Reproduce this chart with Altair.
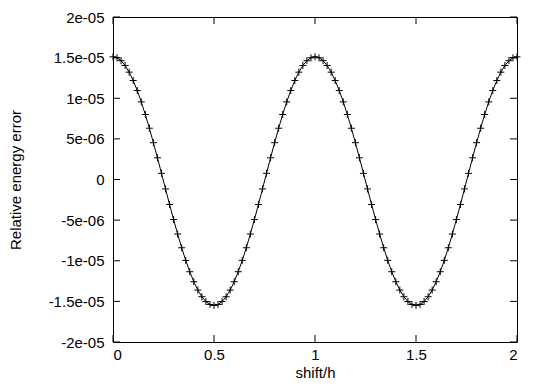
import altair as alt
import pandas as pd

# sample positions (shift/h)
x_vals = [0.00, 0.02, 0.04, 0.06, 0.08, 0.10, 0.12, 0.14, 0.16, 0.18,
          0.20, 0.22, 0.24, 0.26, 0.28, 0.30, 0.32, 0.34, 0.36, 0.38,
          0.40, 0.42, 0.44, 0.46, 0.48, 0.50, 0.52, 0.54, 0.56, 0.58,
          0.60, 0.62, 0.64, 0.66, 0.68, 0.70, 0.72, 0.74, 0.76, 0.78,
          0.80, 0.82, 0.84, 0.86, 0.88, 0.90, 0.92, 0.94, 0.96, 0.98,
          1.00, 1.02, 1.04, 1.06, 1.08, 1.10, 1.12, 1.14, 1.16, 1.18,
          1.20, 1.22, 1.24, 1.26, 1.28, 1.30, 1.32, 1.34, 1.36, 1.38,
          1.40, 1.42, 1.44, 1.46, 1.48, 1.50, 1.52, 1.54, 1.56, 1.58,
          1.60, 1.62, 1.64, 1.66, 1.68, 1.70, 1.72, 1.74, 1.76, 1.78,
          1.80, 1.82, 1.84, 1.86, 1.88, 1.90, 1.92, 1.94, 1.96, 1.98,
          2.00]

# relative energy error, in units of 1e-6
err_micro = [15.10, 14.98, 14.62, 14.03, 13.21, 12.18, 10.95, 9.55, 8.00, 6.31,
             4.53, 2.67, 0.76, -1.16, -3.07, -4.93, -6.71, -8.40, -9.95, -11.35,
             -12.58, -13.61, -14.43, -15.02, -15.38, -15.50, -15.38, -15.02, -14.43, -13.61,
             -12.58, -11.35, -9.95, -8.40, -6.71, -4.93, -3.07, -1.16, 0.76, 2.67,
             4.53, 6.31, 8.00, 9.55, 10.95, 12.18, 13.21, 14.03, 14.62, 14.98,
             15.10, 14.98, 14.62, 14.03, 13.21, 12.18, 10.95, 9.55, 8.00, 6.31,
             4.53, 2.67, 0.76, -1.16, -3.07, -4.93, -6.71, -8.40, -9.95, -11.35,
             -12.58, -13.61, -14.43, -15.02, -15.38, -15.50, -15.38, -15.02, -14.43, -13.61,
             -12.58, -11.35, -9.95, -8.40, -6.71, -4.93, -3.07, -1.16, 0.76, 2.67,
             4.53, 6.31, 8.00, 9.55, 10.95, 12.18, 13.21, 14.03, 14.62, 14.98,
             15.10]

x_ticks = [0, 0.5, 1, 1.5, 2]
y_ticks = [-2e-05, -1.5e-05, -1e-05, -5e-06, 0, 5e-06, 1e-05, 1.5e-05, 2e-05]
y_tick_labels = ["-2e-05", "-1.5e-05", "-1e-05", "-5e-06", "0",
                 "5e-06", "1e-05", "1.5e-05", "2e-05"]

W, H = 404, 325
TICK = 7
FONT = "Liberation Sans"

df = pd.DataFrame({"x": x_vals, "y": [v * 1e-6 for v in err_micro]})
xt = pd.DataFrame({"x": x_ticks})
yt = pd.DataFrame({"y": y_ticks})

label_expr = "[" + ",".join("'%s'" % s for s in y_tick_labels) + "][round(datum.value/5e-6)+4]"

xscale = alt.Scale(domain=[0, 2], nice=False, zero=False)
yscale = alt.Scale(domain=[-2e-05, 2e-05], nice=False, zero=False)

xaxis = alt.Axis(values=x_ticks, format="~g", ticks=False, domain=False, grid=False,
                 labelPadding=5, title="shift/h", titlePadding=3)
yaxis = alt.Axis(values=y_ticks, labelExpr=label_expr, ticks=False, domain=False, grid=False,
                 labelPadding=9, title="Relative energy error", titlePadding=25)

line = alt.Chart(df).mark_line(color="black", strokeWidth=1).encode(
    x=alt.X("x:Q", scale=xscale, axis=xaxis),
    y=alt.Y("y:Q", scale=yscale, axis=yaxis),
)

pts = alt.Chart(df).mark_point(
    shape="M-1,0L1,0M0,-1L0,1", size=49, filled=False, color="black", strokeWidth=1, opacity=1
).encode(
    x=alt.X("x:Q", scale=xscale),
    y=alt.Y("y:Q", scale=yscale),
)

yt_left = alt.Chart(yt).mark_rule(color="black", strokeWidth=1).encode(
    y=alt.Y("y:Q", scale=yscale), x=alt.value(0), x2=alt.value(TICK))
yt_right = alt.Chart(yt).mark_rule(color="black", strokeWidth=1).encode(
    y=alt.Y("y:Q", scale=yscale), x=alt.value(W - TICK), x2=alt.value(W))
xt_bottom = alt.Chart(xt).mark_rule(color="black", strokeWidth=1).encode(
    x=alt.X("x:Q", scale=xscale), y=alt.value(H), y2=alt.value(H - TICK))
xt_top = alt.Chart(xt).mark_rule(color="black", strokeWidth=1).encode(
    x=alt.X("x:Q", scale=xscale), y=alt.value(0), y2=alt.value(TICK))

chart = alt.layer(line, pts, yt_left, yt_right, xt_bottom, xt_top).properties(
    width=W, height=H,
    autosize=alt.AutoSizeParams(type="none"),
    padding={"left": 105, "top": 9, "right": 18, "bottom": 38},
    background="white",
).configure_view(
    stroke="black", strokeWidth=1
).configure_axis(
    labelFont=FONT, titleFont=FONT, labelFontSize=15, titleFontSize=15,
    labelColor="black", titleColor="black", titleFontWeight="normal",
)

chart.save("out.html", embed_options={"renderer": "svg", "actions": False})
